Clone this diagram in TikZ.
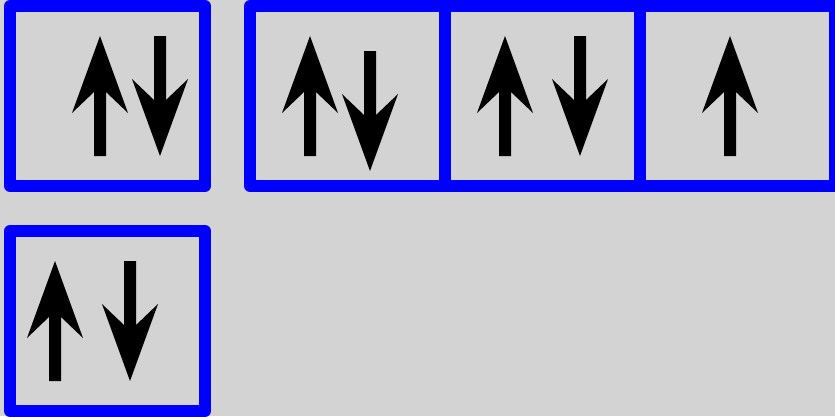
\documentclass[tikz,border=0pt]{standalone}
\definecolor{bg}{RGB}{211,211,211}
\definecolor{boxblue}{RGB}{0,0,255}
\tikzset{
  frame/.style={draw=boxblue, line width=12pt, line join=round},
  uparr/.pic={
    \fill[black] (0,0) -- (28,77) -- (6,56) -- (6,120) -- (-6,120) -- (-6,56) -- (-28,77) -- cycle;
  },
  downarr/.pic={
    \fill[black] (0,120) -- (28,43) -- (6,64) -- (6,0) -- (-6,0) -- (-6,64) -- (-28,43) -- cycle;
  }
}
\begin{document}
\begin{tikzpicture}[x=1pt,y=-1pt]
  \fill[bg] (0,0) rectangle (835,416);
  \useasboundingbox (0,0) rectangle (835,416);
  \begin{scope}
    \clip (0,0) rectangle (835,416);
    % box 1
    \draw[frame] (10,6) rectangle (205,186);
    \pic at (100,36) {uparr};
    \pic at (160,36) {downarr};
    % box group
    \draw[frame] (250,6) rectangle (835,186);
    \draw[frame] (445,6) -- (445,186);
    \draw[frame] (640,6) -- (640,186);
    \pic at (310,36) {uparr};
    \pic at (370,51) {downarr};
    \pic at (505,36) {uparr};
    \pic at (580,36) {downarr};
    \pic at (730,36) {uparr};
    % box 4
    \draw[frame] (10,231) rectangle (205,411);
    \pic at (55,261) {uparr};
    \pic at (130,261) {downarr};
  \end{scope}
\end{tikzpicture}
\end{document}
